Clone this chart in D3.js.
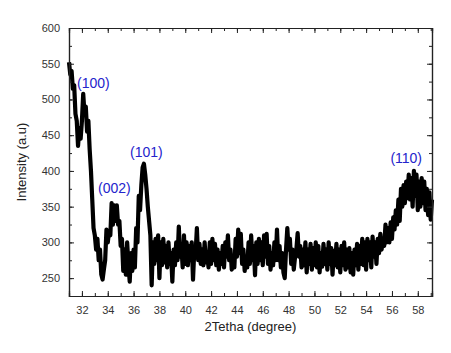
<!DOCTYPE html>
<html>
<head>
<meta charset="utf-8">
<script src="https://cdn.jsdelivr.net/npm/d3@7"></script>
<style>
	body { margin: 0; background: #fff; }
	text { font-family: "Liberation Sans", Arial, sans-serif; }
</style>
</head>
<body>
<div id="chart"></div>
<script>
// 2Theta grid of the scan (degrees)
var startAngle = 31.0;
var angleStep = 0.1;

// Intensity, one row per degree
var intensity = [
	552, 535, 540, 515, 520, 480, 470, 435, 460, 445,
	470, 508, 480, 490, 455, 470, 430, 400, 360, 320,
	310, 290, 305, 275, 290, 255, 248, 262, 275, 318,
	300, 315, 310, 355, 325, 352, 330, 352, 325, 330,
	295, 305, 260, 290, 255, 300, 270, 245, 285, 260,
	290, 265, 320, 300, 365, 345, 380, 405, 410, 395,
	375, 350, 330, 310, 240, 300, 270, 305, 275, 310,
	250, 300, 268, 305, 272, 295, 265, 300, 270, 285,
	245, 290, 268, 300, 275, 322, 280, 295, 265, 310,
	270, 300, 268, 295, 275, 300, 248, 290, 285, 320,
	275, 298, 270, 290, 268, 300, 272, 285, 265, 300,
	270, 305, 275, 298, 268, 290, 262, 285, 270, 295,
	265, 300, 280, 310, 275, 290, 262, 280, 265, 305,
	280, 318, 285, 312, 270, 290, 260, 280, 265, 300,
	270, 310, 275, 295, 254, 300, 270, 305, 275, 300,
	268, 310, 280, 312, 270, 295, 262, 285, 268, 300,
	275, 318, 275, 295, 265, 285, 258, 250, 290, 320,
	290, 305, 270, 290, 262, 280, 290, 313, 280, 295,
	265, 290, 268, 300, 258, 290, 270, 298, 262, 292,
	268, 300, 265, 295, 258, 285, 266, 298, 270, 290,
	262, 300, 270, 292, 255, 288, 268, 298, 265, 290,
	258, 295, 268, 300, 262, 290, 265, 292, 258, 285,
	255, 290, 268, 298, 262, 295, 270, 305, 268, 300,
	262, 305, 275, 300, 265, 308, 280, 300, 270, 305,
	285, 312, 290, 305, 295, 325, 300, 320, 300, 328,
	305, 335, 318, 345, 325, 360, 330, 375, 350, 380,
	355, 385, 362, 395, 360, 390, 350, 400, 365, 395,
	345, 385, 350, 390, 355, 385, 345, 375, 338, 370,
	332, 360
];

// Peak labels
var peakNames = ["(100)", "(002)", "(101)", "(110)"];
var peakAngle = [31.62, 33.25, 35.73, 55.88];
var peakLevel = [516, 369, 420, 411];

var xTicks = [32, 34, 36, 38, 40, 42, 44, 46, 48, 50, 52, 54, 56, 58];
var yTicks = [250, 300, 350, 400, 450, 500, 550, 600];

var w = 451;
var h = 353;
var margin = {top: 28, right: 19, bottom: 57, left: 69};

var svg = d3.select("#chart")
	.append("svg")
	.attr("width", w)
	.attr("height", h);

var x = d3.scaleLinear()
	.domain([31, 59.1])
	.range([margin.left, w - margin.right]);

var y = d3.scaleLinear()
	.domain([225, 600])
	.range([h - margin.bottom, margin.top]);

var points = intensity.map(function(d, i) {
	return [startAngle + i * angleStep, d];
});

// the scan
svg.append("path")
	.datum(points)
	.attr("fill", "none")
	.attr("stroke", "#000")
	.attr("stroke-width", 4.2)
	.attr("stroke-linejoin", "round")
	.attr("d", d3.line()
		.x(function(d) { return x(d[0]); })
		.y(function(d) { return y(d[1]); }));

// axes, ticks pointing inwards
var xMinor = d3.range(31, 59.1, 1);
var yMinor = d3.range(225, 601, 25);

function frameAxis(axis, trans, cls) {
	svg.append("g")
		.attr("class", cls)
		.attr("transform", trans)
		.call(axis);
}

frameAxis(d3.axisBottom(x).tickValues(xMinor).tickSize(-3).tickFormat(""), "translate(0," + (h - margin.bottom) + ")", "minor");
frameAxis(d3.axisBottom(x).tickValues(xTicks).tickSize(-5).tickPadding(10).tickFormat(d3.format("d")), "translate(0," + (h - margin.bottom) + ")", "xaxis");
frameAxis(d3.axisTop(x).tickValues(xMinor).tickSize(-3).tickFormat(""), "translate(0," + margin.top + ")", "minor");
frameAxis(d3.axisTop(x).tickValues(xTicks).tickSize(-5).tickFormat(""), "translate(0," + margin.top + ")", "minor");
frameAxis(d3.axisLeft(y).tickValues(yMinor).tickSize(-3).tickFormat(""), "translate(" + margin.left + ",0)", "minor");
frameAxis(d3.axisLeft(y).tickValues(yTicks).tickSize(-5).tickPadding(9).tickFormat(d3.format("d")), "translate(" + margin.left + ",0)", "yaxis");
frameAxis(d3.axisRight(y).tickValues(yMinor).tickSize(-3).tickFormat(""), "translate(" + (w - margin.right) + ",0)", "minor");
frameAxis(d3.axisRight(y).tickValues(yTicks).tickSize(-5).tickFormat(""), "translate(" + (w - margin.right) + ",0)", "minor");

svg.selectAll(".domain").attr("stroke", "#222").attr("stroke-width", 1.2);
svg.selectAll(".tick line").attr("stroke", "#222").attr("stroke-width", 1);
svg.selectAll(".tick text")
	.attr("font-size", 11)
	.attr("fill", "#333")
	.style("font-family", "'Liberation Sans', Arial, sans-serif");

// axis titles
svg.append("text")
	.attr("x", (margin.left + w - margin.right) / 2)
	.attr("y", 331)
	.attr("text-anchor", "middle")
	.attr("font-size", 13)
	.attr("fill", "#222")
	.text("2Tetha (degree)");

svg.append("text")
	.attr("transform", "translate(26," + ((margin.top + h - margin.bottom) / 2) + ") rotate(-90)")
	.attr("text-anchor", "middle")
	.attr("font-size", 13)
	.attr("fill", "#222")
	.text("Intensity (a.u)");

// peak labels
svg.selectAll(".peak")
	.data(peakNames)
	.enter()
	.append("text")
	.attr("class", "peak")
	.attr("x", function(d, i) { return x(peakAngle[i]); })
	.attr("y", function(d, i) { return y(peakLevel[i]); })
	.attr("font-size", 14)
	.attr("fill", "#2424cc")
	.text(function(d) { return d; });
</script>
</body>
</html>
